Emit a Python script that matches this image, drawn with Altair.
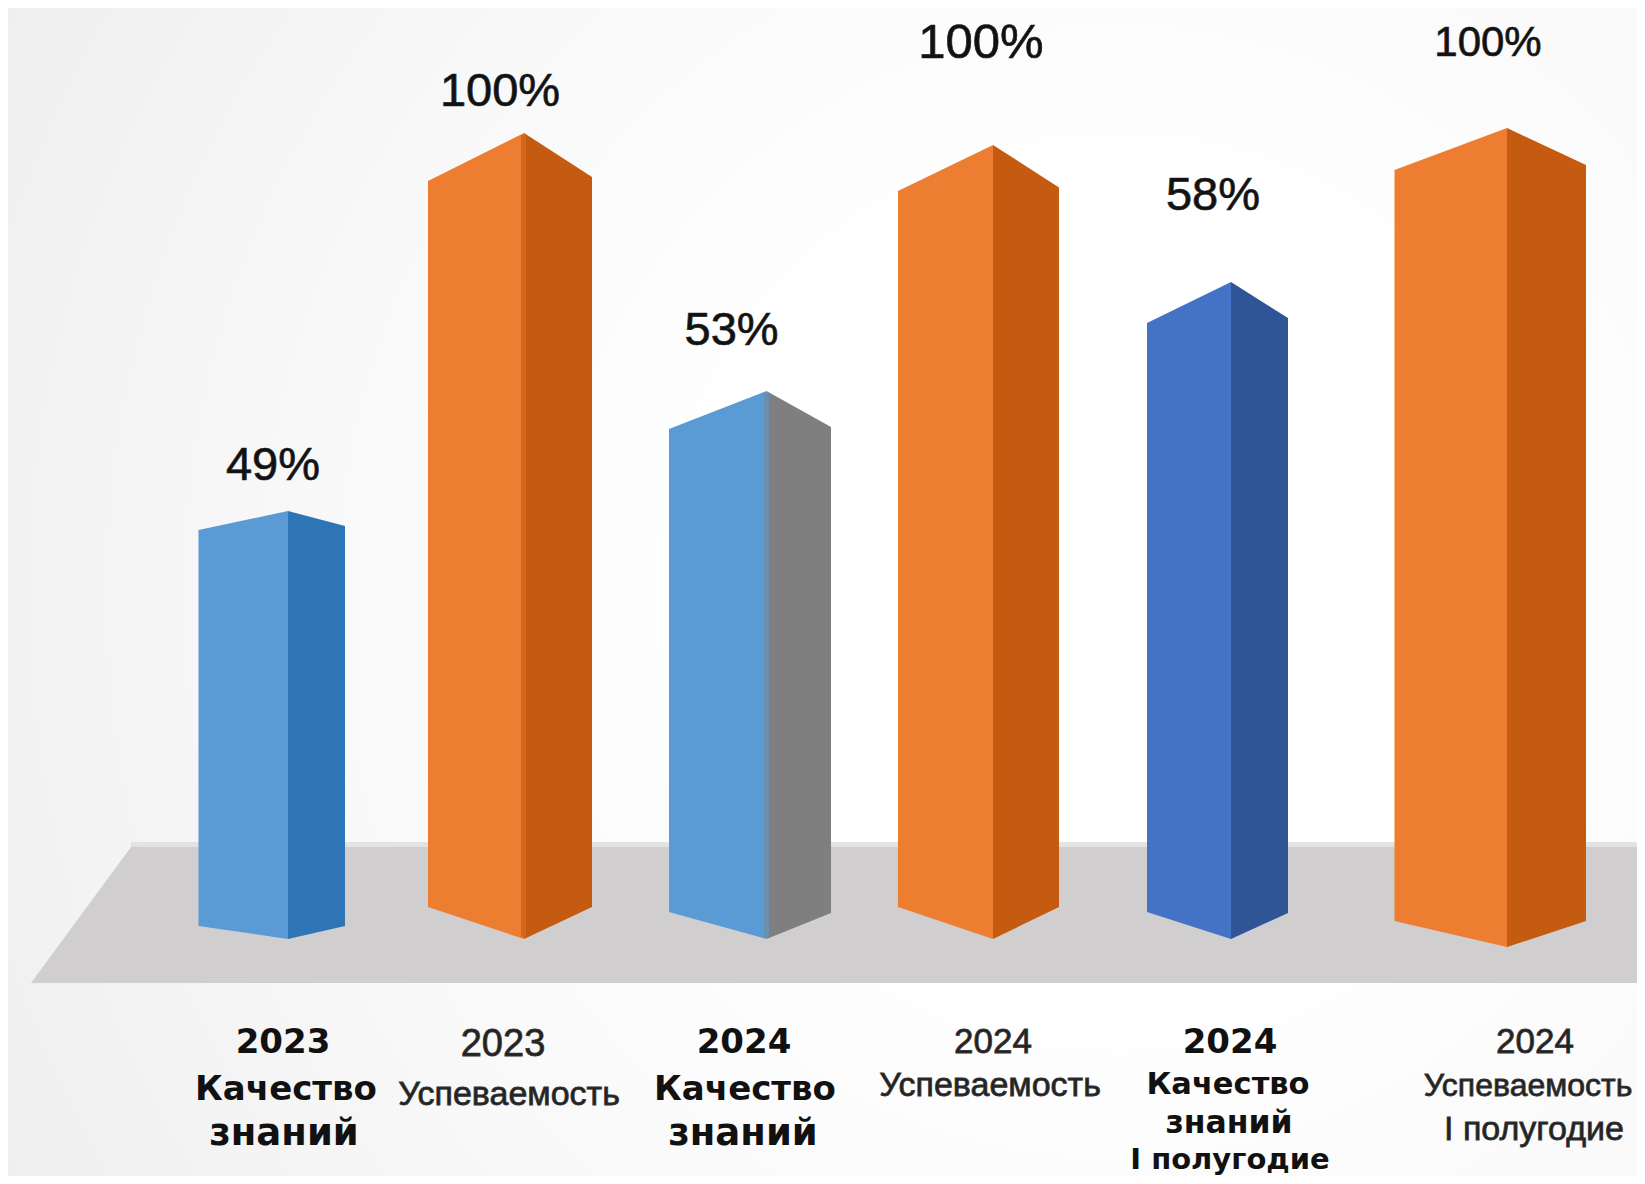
import altair as alt
import pandas as pd

# chart values
years = ["2023", "2023", "2024", "2024", "2024", "2024"]
values = [49, 100, 53, 100, 58, 100]

# 3D bar geometry (chart units: x grows right, y grows down)
bar_left = [198.5, 428, 669, 898, 1147, 1394.5]
bar_mid = [288, 524, 766.5, 993, 1231, 1507]
bar_right = [345, 592, 831, 1059, 1288, 1586]
top_left = [530, 181, 429, 191, 323, 170]
top_apex = [511, 133, 391, 145, 282, 128]
top_right = [526, 177, 427, 187.5, 318, 165]
base_side_l = [926, 907, 912, 907, 912, 921]
base_side_r = [926, 907, 913, 907, 913, 921]
base_apex = [939, 939, 939, 939, 939, 947]
front_fill = ["#5B9BD5", "#ED7D31", "#5B9BD5", "#ED7D31", "#4472C4", "#ED7D31"]
side_fill = ["#2E75B6", "#C55A11", "#7F7F7F", "#C55A11", "#2F5597", "#C55A11"]

# seam strips
seam_bar = [1, 2]
seam_left = [521, 764]
seam_right = [526, 769]
seam_fill = ["#D7661D", "#6C8FAF"]

# floor
floor_x = [31, 131, 1637]
floor_top = [983, 847, 847]
floor_bottom = [983, 983, 983]
band_x = [131, 1637]
band_top = [842, 842]
band_bottom = [847, 847]

# value labels
pct_x = [273, 500, 731.6, 981, 1213, 1488]
pct_y = [466, 92, 331, 43, 195.5, 43]
pct_size = [47, 47, 47, 49, 47, 42]

# category labels
bold_text = ["2023", "Качество", "знаний", "2024", "Качество", "знаний",
             "2024", "Качество", "знаний", "I полугодие"]
bold_x = [283, 286, 284, 744, 745, 743, 1230, 1228, 1229, 1230]
bold_y = [1053, 1100, 1145, 1053, 1100, 1145, 1053, 1094, 1133, 1169]
bold_size = [34, 34, 37, 34, 34, 37, 34, 30.5, 31.5, 29]

reg_text = ["2023", "Успеваемость", "2024", "Успеваемость",
            "2024", "Успеваемость", "I полугодие"]
reg_x = [503, 509, 993, 990, 1535, 1528, 1534]
reg_y = [1056, 1105, 1053, 1096, 1053, 1096, 1140]
reg_size = [38, 34, 35, 34, 35, 32, 34]

X = alt.Scale(domain=[8, 1637], nice=False, zero=False)
Y = alt.Scale(domain=[1176, 8], nice=False, zero=False)
W, H = 1629, 1168


def xq(f):
    return alt.X(f"{f}:Q", scale=X, axis=None)


def yq(f):
    return alt.Y(f"{f}:Q", scale=Y, axis=None)


faces = []
for i in range(len(values)):
    faces += [
        dict(face=f"f{i}", x=bar_left[i], y=top_left[i], y2=base_side_l[i], fill=front_fill[i]),
        dict(face=f"f{i}", x=bar_mid[i], y=top_apex[i], y2=base_apex[i], fill=front_fill[i]),
        dict(face=f"s{i}", x=bar_mid[i], y=top_apex[i], y2=base_apex[i], fill=side_fill[i]),
        dict(face=f"s{i}", x=bar_right[i], y=top_right[i], y2=base_side_r[i], fill=side_fill[i]),
    ]
for j, b in enumerate(seam_bar):
    for xx in (seam_left[j], seam_right[j]):
        faces.append(dict(face=f"z{j}", x=xx, y=top_apex[b] + 2, y2=base_apex[b] - 2, fill=seam_fill[j]))
faces = pd.DataFrame(faces)

floor = pd.DataFrame({"x": floor_x, "y": floor_top, "y2": floor_bottom})
band = pd.DataFrame({"x": band_x, "y": band_top, "y2": band_bottom})
bg = pd.DataFrame({"x": [8], "x2": [1637], "y": [8], "y2": [1176]})

gradient = alt.RadialGradient(
    gradient="radial",
    x1=0.68, y1=0.5, x2=0.68, y2=0.5, r1=0.0, r2=0.8,
    stops=[
        alt.GradientStop(offset=0.0, color="#FFFFFF"),
        alt.GradientStop(offset=0.3, color="#FFFFFF"),
        alt.GradientStop(offset=0.6, color="#F9F9F9"),
        alt.GradientStop(offset=1.0, color="#EEEEEE"),
    ],
)

background = alt.Chart(bg).mark_rect(fill=gradient).encode(
    x=xq("x"), x2="x2:Q", y=yq("y"), y2="y2:Q"
)
band_l = alt.Chart(band).mark_area(color="#E3E3E3").encode(x=xq("x"), y=yq("y"), y2="y2:Q")
floor_l = alt.Chart(floor).mark_area(color="#D0CECE").encode(x=xq("x"), y=yq("y"), y2="y2:Q")
face_l = alt.Chart(faces).mark_area(opacity=1).encode(
    x=xq("x"), y=yq("y"), y2="y2:Q",
    color=alt.Color("fill:N", scale=None),
    detail="face:N",
)

pct = pd.DataFrame({"x": pct_x, "y": pct_y, "t": [f"{v}%" for v in values], "s": pct_size})
pct_l = alt.Chart(pct).mark_text(
    font="Liberation Sans", baseline="middle", align="center", color="#111111",
    stroke="#222222", strokeWidth=0.7,
).encode(x=xq("x"), y=yq("y"), text="t:N", size=alt.Size("s:Q", scale=None))

bold = pd.DataFrame({"x": bold_x, "y": bold_y, "t": bold_text, "s": bold_size})
bold_l = alt.Chart(bold).mark_text(
    font="DejaVu Sans", fontWeight="bold", baseline="alphabetic", align="center", color="#111111"
).encode(x=xq("x"), y=yq("y"), text="t:N", size=alt.Size("s:Q", scale=None))

reg = pd.DataFrame({"x": reg_x, "y": reg_y, "t": reg_text, "s": reg_size})
reg_l = alt.Chart(reg).mark_text(
    font="Liberation Sans", baseline="alphabetic", align="center", color="#222222",
    stroke="#333333", strokeWidth=0.8,
).encode(x=xq("x"), y=yq("y"), text="t:N", size=alt.Size("s:Q", scale=None))

chart = alt.layer(background, band_l, floor_l, face_l, pct_l, bold_l, reg_l).properties(
    width=W, height=H, padding=0,
    autosize=alt.AutoSizeParams(type="none"),
).configure_view(strokeWidth=0)

chart.save("out.html", embed_options={"renderer": "svg", "actions": False})
